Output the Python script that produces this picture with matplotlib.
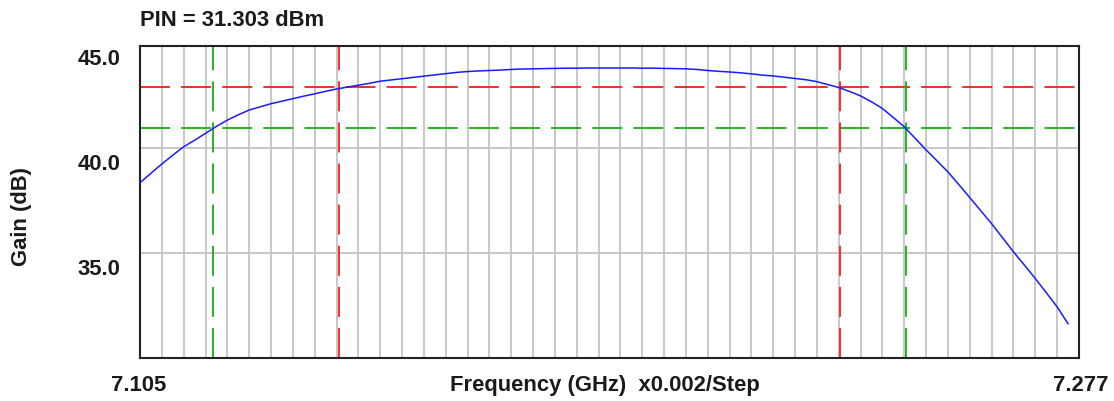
import numpy as np
import matplotlib
matplotlib.use('Agg')
import matplotlib.pyplot as plt

plt.rcParams['font.family'] = ['Liberation Sans', 'DejaVu Sans']
plt.rcParams['lines.scale_dashes'] = False

# sweep: 7.105 GHz, 0.002 GHz per step
f_start = 7.105
f_stop = 7.277
f_step = 0.002
gain = [38.34, 38.79, 39.23, 39.65, 40.05, 40.36, 40.69, 41.02, 41.32, 41.57,
        41.80, 41.95, 42.10, 42.22, 42.34, 42.46, 42.57, 42.69, 42.80, 42.89,
        42.98, 43.07, 43.17, 43.23, 43.29, 43.35, 43.41, 43.47, 43.53, 43.59,
        43.63, 43.66, 43.68, 43.70, 43.73, 43.75, 43.76, 43.77, 43.78, 43.79,
        43.79, 43.80, 43.80, 43.80, 43.80, 43.80, 43.79, 43.79, 43.78, 43.77,
        43.76, 43.73, 43.68, 43.64, 43.61, 43.57, 43.52, 43.46, 43.42, 43.36,
        43.30, 43.24, 43.15, 43.01, 42.87, 42.68, 42.47, 42.19, 41.87, 41.44,
        41.00, 40.45, 39.90, 39.38, 38.85, 38.25, 37.63, 37.01, 36.39, 35.72,
        35.05, 34.42, 33.78, 33.11, 32.43, 31.63]
freq = f_start + f_step * np.arange(len(gain))

pin_dbm = 31.303
y_ticks = [35.0, 40.0, 45.0]

# marker lines (-1 dB red, -3 dB green)
red_gain = 42.88
red_freqs = [7.1415, 7.2332]
green_gain = 40.95
green_freqs = [7.1184, 7.2454]

fig = plt.figure(figsize=(11.14, 4.02), dpi=100)
ax = fig.add_axes([140/1114, 43/402, 939/1114, 312.3/402])

ax.set_xlim(f_start, f_stop)
ax.set_ylim(30.0, 44.86)

# grid
grid_color = '#c4c4c4'
for gx in np.arange(f_start + 0.004, f_stop - 0.001, 0.004):
    ax.axvline(gx, color=grid_color, lw=1.3, zorder=1)
for gy in [35.0, 40.0]:
    ax.axhline(gy, color=grid_color, lw=1.3, zorder=1)

dash = (21.6, 8.0)
ax.axhline(red_gain, color='#ff1a1a', lw=1.3, dashes=dash, zorder=2)
ax.axhline(green_gain, color='#10b010', lw=1.3, dashes=dash, zorder=2)
for fx in red_freqs:
    ax.axvline(fx, color='#ff1a1a', lw=1.3, dashes=dash, zorder=2)
for fx in green_freqs:
    ax.axvline(fx, color='#10b010', lw=1.3, dashes=dash, zorder=2)

ax.plot(freq, gain, color='#1a1aff', lw=1.1, zorder=3)

for sp in ax.spines.values():
    sp.set_color('#222222')
    sp.set_linewidth(1.5)
ax.set_xticks([])
ax.set_yticks([])

tk = dict(fontsize=15.8, fontweight='bold', color='#1a1a1a')
for v in y_ticks:
    ax.annotate('%.1f' % v, xy=(0, v), xycoords=('axes fraction', 'data'),
                xytext=(-20, -16), textcoords='offset pixels',
                ha='right', va='center', annotation_clip=False, **tk)

fig.text(140/1114, 1 - 20/402, 'PIN = %.3f dBm' % pin_dbm, ha='left', va='center', **tk)
fig.text(22/1114, 1 - 216/402, 'Gain (dB)', rotation=90, ha='center', va='center', **tk)
fig.text(139/1114, 1 - 386/402, '%.3f' % f_start, ha='center', va='center', **tk)
fig.text(1081/1114, 1 - 386/402, '%.3f' % f_stop, ha='center', va='center', **tk)
fig.text(605/1114, 1 - 386/402, 'Frequency (GHz)  x%.3f/Step' % f_step,
         ha='center', va='center', **tk)

fig.savefig('out.png', dpi=100, facecolor='white')
